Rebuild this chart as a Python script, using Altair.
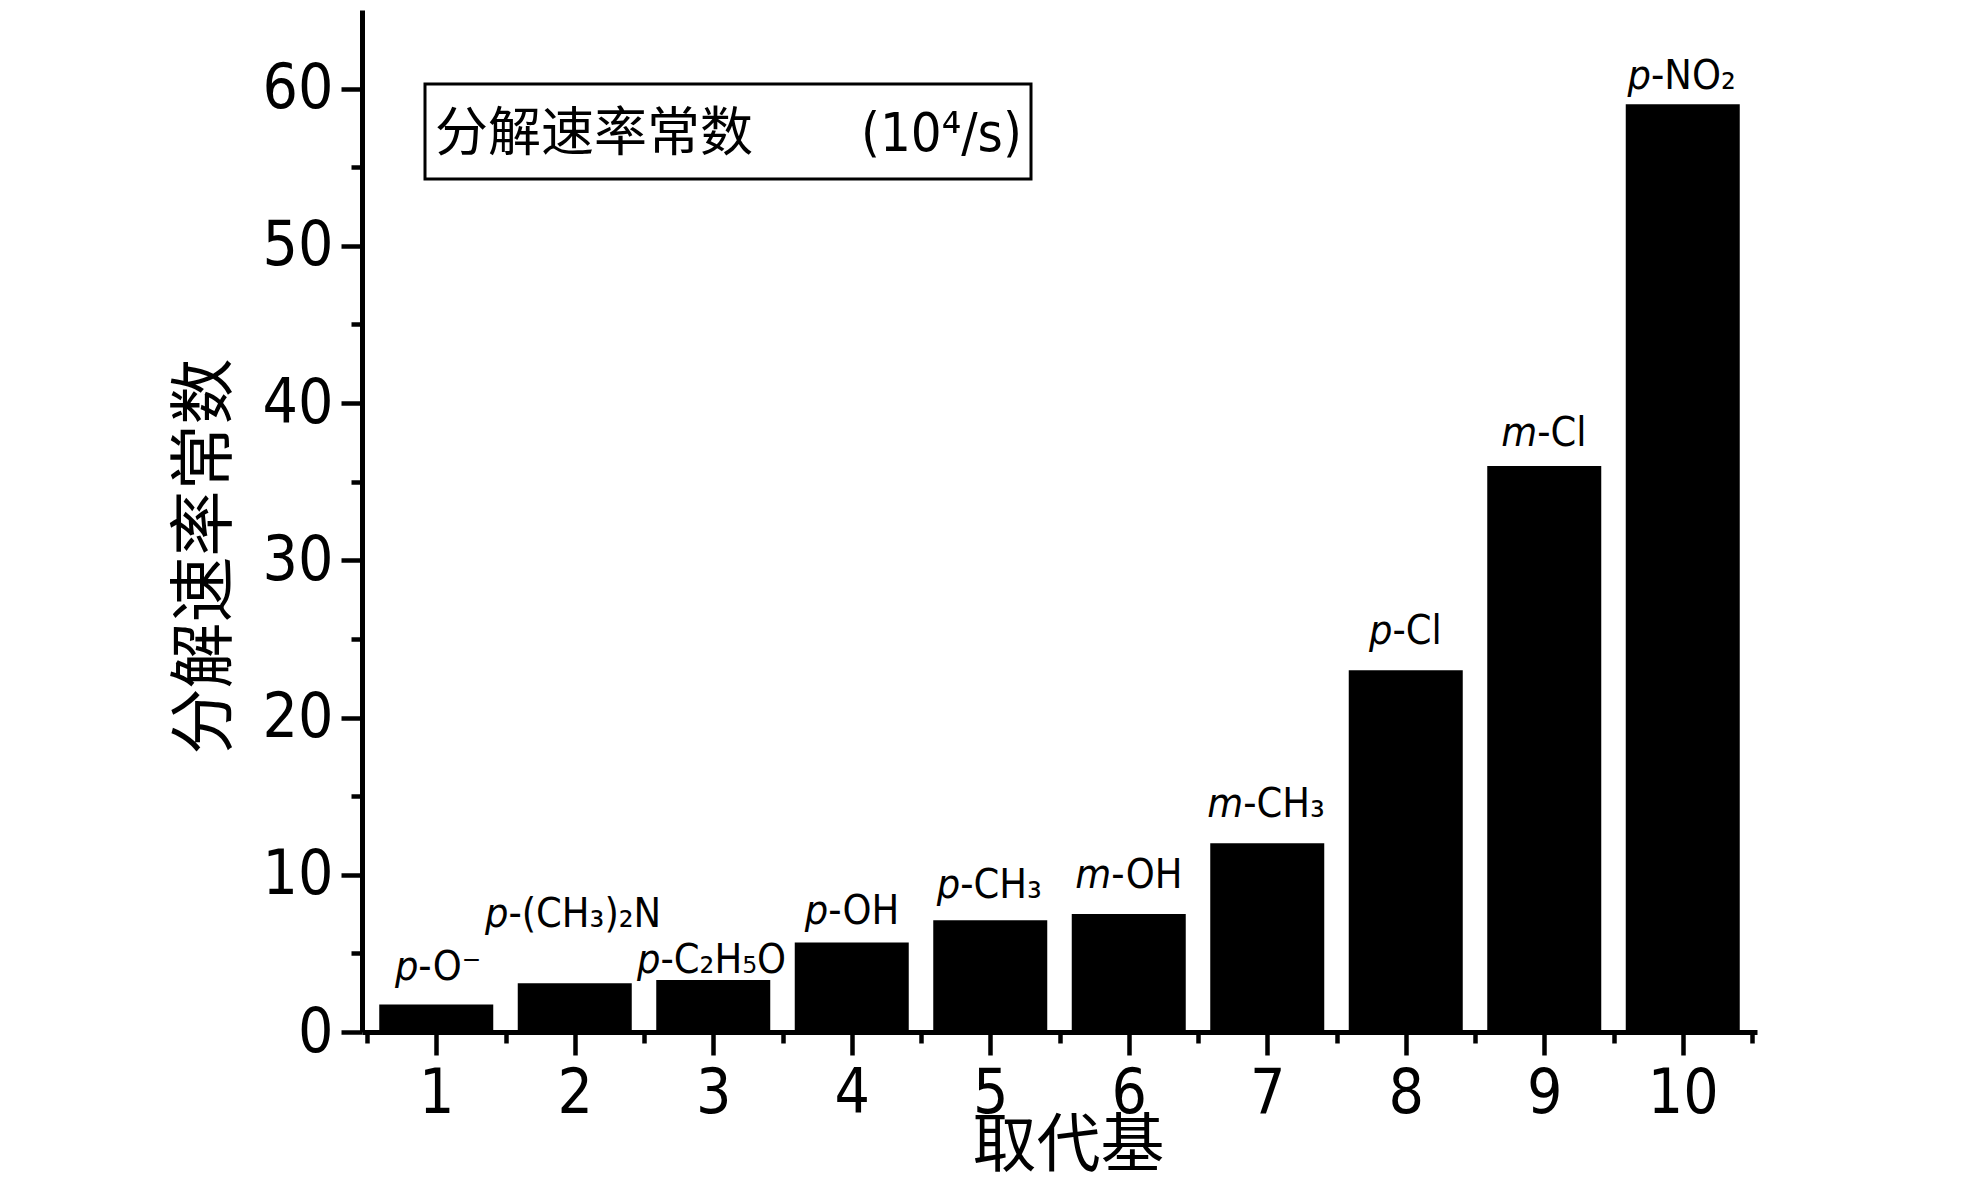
import altair as alt
import pandas as pd

# ---- data ----
positions = [1, 2, 3, 4, 5, 6, 7, 8, 9, 10]
rates = [1.75, 3.1, 3.3, 5.7, 7.1, 7.5, 12.0, 23.0, 36.0, 59.0]
prefixes = ["p", "p", "p", "p", "p", "m", "m", "p", "m", "p"]
suffixes = ["-O⁻", "-(CH₃)₂N", "-C₂H₅O", "-OH", "-CH₃", "-OH", "-CH₃", "-Cl", "-Cl", "-NO₂"]
label_y = [3.3, 6.7, 3.75, 6.9, 8.5, 9.15, 13.7, 24.7, 37.3, 60.0]
y_major = [0, 10, 20, 30, 40, 50, 60]
y_minor = [5, 15, 25, 35, 45, 55]
x_minor = [0.5, 1.5, 2.5, 3.5, 4.5, 5.5, 6.5, 7.5, 8.5, 9.5, 10.5]

W, H = 1395, 1022
PX_PER_UNIT = W / 10.0
FONT = "DejaVu Sans Condensed, Liberation Sans Narrow, Arial Narrow, sans-serif"
CJK = "Noto Sans CJK SC"
LFS = 41

em = {"p": 0.56, "m": 0.86, "-": 0.33, "O": 0.71, "N": 0.68, "C": 0.63,
      "H": 0.68, "l": 0.25, "(": 0.35, ")": 0.35}


def width(s):
    return sum(em.get(c, 0.4) for c in s) * LFS


offsets = [(width(p) - width(s)) / 2 / PX_PER_UNIT for p, s in zip(prefixes, suffixes)]

bars_df = pd.DataFrame({"pos": positions, "rate": rates})
lab_df = pd.DataFrame({"pos": positions, "pre": prefixes, "suf": suffixes,
                       "ly": label_y, "off": offsets})
minor_df = pd.DataFrame({"pos": [0.5], "rate": [0]})
one = pd.DataFrame({"k": [0]})

xscale = alt.Scale(domain=[0.5, 10.5], nice=False, zero=False)
yscale = alt.Scale(domain=[0, 65], nice=False)

common = dict(domainColor="black", tickColor="black", labelColor="black", grid=False, zindex=1)

x_axis = alt.Axis(values=positions, format="d", tickSize=23, tickWidth=4.5, domainWidth=5,
                  labelFont=FONT, labelFontSize=62, labelPadding=8, labelFlush=False,
                  title="取代基", titleFont=CJK, titleFontSize=64, titleFontWeight="normal",
                  titleColor="black", titleX=706, titleY=146, titleBaseline="bottom",
                  titleAlign="center", orient="bottom", **common)
y_axis = alt.Axis(values=y_major, tickSize=21, tickWidth=4.5, domainWidth=5,
                  labelFont=FONT, labelFontSize=62, labelPadding=8, labelFlush=False,
                  title="分解速率常数", titleFont=CJK, titleFontSize=66, titleFontWeight="normal",
                  titleColor="black", titleX=-157, titleY=546, titleAngle=270,
                  titleBaseline="middle", titleAlign="center", orient="left", **common)
x_minor_axis = alt.Axis(values=x_minor, tickSize=11, tickWidth=4.5, domain=False, labels=False,
                        title=None, orient="bottom", **common)
y_minor_axis = alt.Axis(values=y_minor, tickSize=11, tickWidth=4.5, domain=False, labels=False,
                        title=None, orient="left", **common)

bars = alt.Chart(bars_df).mark_bar(size=114, color="black").encode(
    x=alt.X("pos:Q", scale=xscale, axis=x_axis),
    y=alt.Y("rate:Q", scale=yscale, axis=y_axis),
)

minor = alt.Chart(minor_df).mark_point(opacity=0).encode(
    x=alt.X("pos:Q", scale=xscale, axis=x_minor_axis),
    y=alt.Y("rate:Q", scale=yscale, axis=y_minor_axis),
)

lab_base = alt.Chart(lab_df).transform_calculate(lx="datum.pos + datum.off")
lab_pre = lab_base.mark_text(align="right", baseline="alphabetic", font=FONT, fontSize=LFS,
                             fontStyle="italic", color="black").encode(
    x=alt.X("lx:Q", scale=xscale, axis=None), y=alt.Y("ly:Q", scale=yscale, axis=None),
    text="pre:N")
lab_suf = lab_base.mark_text(align="left", baseline="alphabetic", font=FONT, fontSize=LFS,
                             color="black").encode(
    x=alt.X("lx:Q", scale=xscale, axis=None), y=alt.Y("ly:Q", scale=yscale, axis=None),
    text="suf:N")

box = alt.Chart(one).mark_rect(fill="white", stroke="black", strokeWidth=3).encode(
    x=alt.value(63), x2=alt.value(669), y=alt.value(74), y2=alt.value(169))
box_t1 = alt.Chart(one).mark_text(align="left", baseline="middle", font=CJK, fontSize=53,
                                  color="black").encode(
    x=alt.value(73), y=alt.value(125), text=alt.value("分解速率常数"))
box_t2 = alt.Chart(one).mark_text(align="left", baseline="middle", font=FONT, fontSize=54,
                                  color="black").encode(
    x=alt.value(499), y=alt.value(125), text=alt.value("(10⁴/s)"))

chart = alt.layer(bars, minor, lab_pre, lab_suf, box, box_t1, box_t2).resolve_axis(
    x="independent", y="independent"
).properties(
    width=W, height=H,
    padding={"left": 354, "top": 2, "right": 200, "bottom": 149},
    autosize=alt.AutoSizeParams(type="none"),
    background="white",
).configure_view(strokeWidth=0)

chart.save("out.html", embed_options={"renderer": "svg", "actions": False})
